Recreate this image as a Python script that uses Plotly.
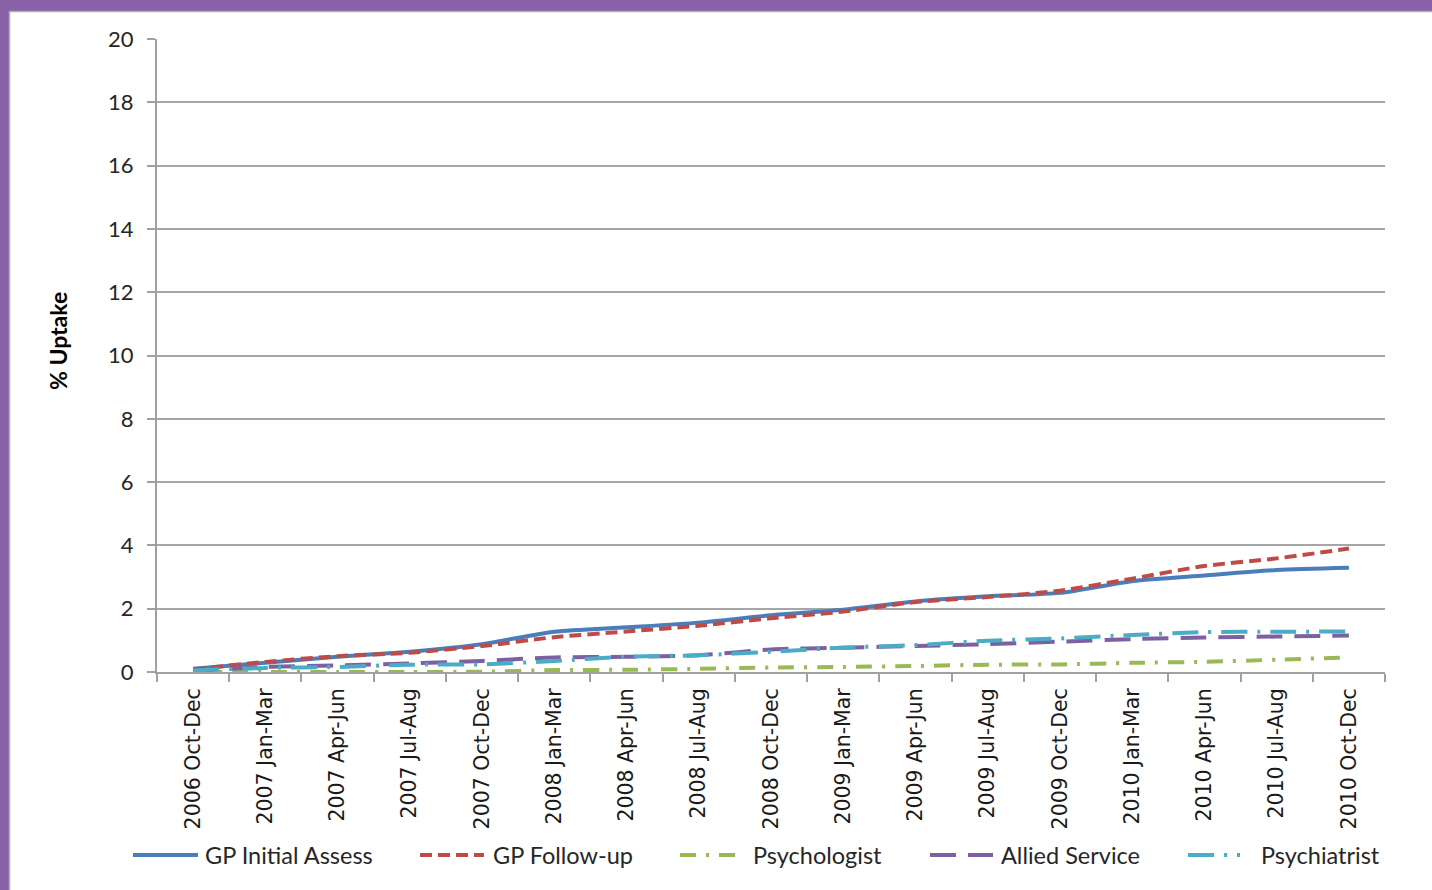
import plotly.graph_objects as go

categories = ["2006 Oct-Dec", "2007 Jan-Mar", "2007 Apr-Jun", "2007 Jul-Aug", "2007 Oct-Dec",
              "2008 Jan-Mar", "2008 Apr-Jun", "2008 Jul-Aug", "2008 Oct-Dec", "2009 Jan-Mar",
              "2009 Apr-Jun", "2009 Jul-Aug", "2009 Oct-Dec", "2010 Jan-Mar", "2010 Apr-Jun",
              "2010 Jul-Aug", "2010 Oct-Dec"]

gp_initial = [0.10, 0.29, 0.48, 0.64, 0.88, 1.27, 1.41, 1.56, 1.79, 1.97, 2.23, 2.39, 2.50, 2.87, 3.05, 3.22, 3.29]
gp_follow = [0.08, 0.32, 0.50, 0.61, 0.82, 1.10, 1.28, 1.46, 1.70, 1.91, 2.21, 2.37, 2.57, 2.95, 3.35, 3.59, 3.90]
psychologist = [0.00, 0.00, 0.00, 0.00, 0.01, 0.06, 0.07, 0.10, 0.14, 0.16, 0.19, 0.23, 0.24, 0.29, 0.32, 0.39, 0.46]
allied = [0.03, 0.16, 0.21, 0.27, 0.35, 0.46, 0.48, 0.53, 0.71, 0.77, 0.82, 0.88, 0.96, 1.04, 1.09, 1.12, 1.15]
psychiatrist = [0.05, 0.13, 0.16, 0.23, 0.24, 0.35, 0.48, 0.53, 0.64, 0.77, 0.85, 0.99, 1.06, 1.17, 1.26, 1.27, 1.28]

series_names = ["GP Initial Assess", "GP Follow-up", "Psychologist", "Allied Service", "Psychiatrist"]
series_values = [gp_initial, gp_follow, psychologist, allied, psychiatrist]
y_ticks = [0, 2, 4, 6, 8, 10, 12, 14, 16, 18, 20]

colors = ["#4A7EBB", "#BE4B48", "#98B954", "#7D60A0", "#4BACC6"]
dashes = ["solid", "12px,6px", "16px,10px,3px,10px", "26px,12px", "26px,10px,3px,10px"]

W, H = 1432, 890
L, R, T, B = 157, 47, 39, 218
PW, PH = W - L - R, H - T - B

def px_x(x):
    return (x - L) / PW

def px_y(y):
    return 1 - (y - T) / PH

fig = go.Figure()
for name, vals, c, d in zip(series_names, series_values, colors, dashes):
    fig.add_trace(go.Scatter(
        x=categories, y=vals, name=name, mode="lines",
        line=dict(color=c, width=4, dash=d, shape="spline", smoothing=0.7),
        showlegend=False,
    ))

shapes = []
annotations = []
# purple frame
shapes.append(dict(type="rect", xref="paper", yref="paper", x0=px_x(0), x1=px_x(W), y0=px_y(11), y1=px_y(0),
                   fillcolor="#8961A6", line=dict(width=0), layer="above"))
shapes.append(dict(type="rect", xref="paper", yref="paper", x0=px_x(0), x1=px_x(9), y0=px_y(H), y1=px_y(0),
                   fillcolor="#8961A6", line=dict(width=0), layer="above"))
shapes.append(dict(type="line", xref="paper", yref="paper", x0=px_x(10), x1=px_x(W), y0=px_y(11.5), y1=px_y(11.5),
                   line=dict(color="#B0B0B0", width=1.5)))
shapes.append(dict(type="line", xref="paper", yref="paper", x0=px_x(9.5), x1=px_x(9.5), y0=px_y(H), y1=px_y(11),
                   line=dict(color="#B0B0B0", width=1.5)))

# custom legend
leg_y = 855
sample_x = [(133, 198), (420, 484), (680, 742), (930, 993), (1188, 1240)]
text_x = [203, 491, 751, 999, 1259]
for name, c, d, (a, b), tx in zip(series_names, colors, dashes, sample_x, text_x):
    shapes.append(dict(type="line", xref="paper", yref="paper", x0=px_x(a), x1=px_x(b),
                       y0=px_y(leg_y), y1=px_y(leg_y), line=dict(color=c, width=4, dash=d)))
    annotations.append(dict(xref="paper", yref="paper", x=px_x(tx), y=px_y(leg_y), text=name,
                            showarrow=False, xanchor="left", yanchor="middle",
                            font=dict(family="Lato", size=23.5, color="#262626")))

annotations.append(dict(xref="paper", yref="paper", x=px_x(58), y=px_y(341), text="<b>% Uptake</b>",
                        showarrow=False, textangle=-90, xanchor="center", yanchor="middle",
                        font=dict(family="Lato", size=23, color="#000000")))

fig.update_layout(
    width=W, height=H,
    margin=dict(l=L, r=R, t=T, b=B),
    paper_bgcolor="white", plot_bgcolor="white",
    shapes=shapes, annotations=annotations,
    showlegend=False,
    xaxis=dict(
        type="category", categoryorder="array", categoryarray=categories,
        range=[-0.5, 16.5], tickson="boundaries", ticks="outside", ticklen=8, tickwidth=1.5,
        tickcolor="#A0A0A0", showline=True, linecolor="#A0A0A0", linewidth=2, showgrid=False,
        tickangle=-90, tickfont=dict(family="DejaVu Sans", size=20.5, color="#1a1a1a"),
        zeroline=False, ticklabelstandoff=6,
    ),
    yaxis=dict(
        range=[0, 20], tickvals=y_ticks, ticktext=[str(v) for v in y_ticks],
        ticks="outside", ticklen=8, tickwidth=1.5, tickcolor="#A0A0A0",
        showline=True, linecolor="#A0A0A0", linewidth=2,
        showgrid=True, gridcolor="#A6A6A6", gridwidth=1.5, zeroline=False,
        tickfont=dict(family="Lato", size=22, color="#262626"),
        ticklabelstandoff=9,
    ),
)

fig.write_html("out.html")
